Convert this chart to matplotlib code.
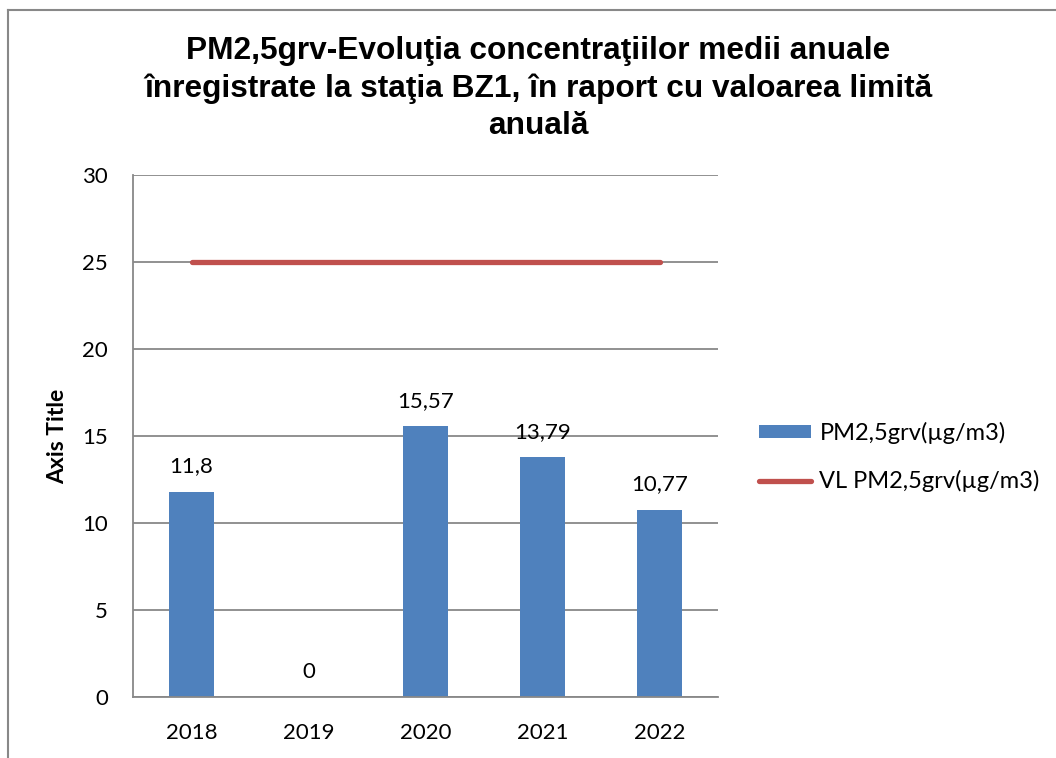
import matplotlib
matplotlib.use("Agg")
import matplotlib.pyplot as plt
from matplotlib.lines import Line2D
from matplotlib.patches import Patch

years = ["2018", "2019", "2020", "2021", "2022"]
pm25 = [11.8, 0, 15.57, 13.79, 10.77]
limit = [25, 25, 25, 25, 25]
bar_labels = ["11,8", "0", "15,57", "13,79", "10,77"]
title = "PM2,5grv-Evoluţia concentraţiilor medii anuale\nînregistrate la staţia BZ1, în raport cu valoarea limită\nanuală"
series_names = ["PM2,5grv(µg/m3)", "VL PM2,5grv(µg/m3)"]

blue = "#4F81BD"
red = "#C0504D"
grid = "#888888"

fig = plt.figure(figsize=(10.56, 7.58), dpi=100)
ax = fig.add_axes([0.126, 0.0805, 0.554, 0.6885])

x = list(range(len(years)))
ax.bar(x, pm25, width=0.39, color=blue, zorder=2)
ax.plot(x, limit, color=red, lw=3.8, solid_capstyle="round", zorder=3)

for xi, v, lab in zip(x, pm25, bar_labels):
    ax.annotate(lab, (xi, v), xytext=(0, 11), textcoords="offset points",
                ha="center", va="bottom", fontsize=16, family="Lato")

ax.set_xlim(-0.5, 4.5)
ax.set_ylim(0, 30)
ax.set_yticks(range(0, 31, 5))
ax.set_xticks(x)
ax.set_xticklabels(years)
ax.tick_params(axis="both", length=0, labelsize=16, colors="black")
ax.tick_params(axis="x", pad=19)
ax.tick_params(axis="y", pad=18)
for lab in ax.get_xticklabels() + ax.get_yticklabels():
    lab.set_family("Lato")
ax.yaxis.grid(True, color=grid, lw=1.3, zorder=0)
ax.set_axisbelow(True)
for s in ["top", "right"]:
    ax.spines[s].set_visible(False)
for s in ["left", "bottom"]:
    ax.spines[s].set_color(grid)
    ax.spines[s].set_linewidth(1.3)

ax.set_ylabel("Axis Title", fontsize=16.5, fontweight="bold", family="Lato", labelpad=10)

fig.text(0.51, 0.953, title, ha="center", va="top", fontsize=22.8,
         fontweight="bold", family="Liberation Sans", linespacing=1.33)

handles = [Patch(facecolor=blue, edgecolor="none"),
           Line2D([0], [0], color=red, lw=3.8, solid_capstyle="round")]
leg = fig.legend(handles, series_names, loc="center left",
                 bbox_to_anchor=(0.719, 0.397), frameon=False,
                 prop={"family": "Lato", "size": 17}, handlelength=2.2,
                 handleheight=0.5, handletextpad=0.35, labelspacing=1.1,
                 borderpad=0, borderaxespad=0)

# figure border (left and top)
fig.add_artist(Line2D([0.0075, 0.0075], [0.0, 0.987], transform=fig.transFigure,
                      color="#888888", lw=1.5))
fig.add_artist(Line2D([0.0075, 1.0], [0.987, 0.987], transform=fig.transFigure,
                      color="#888888", lw=1.5))

fig.savefig("out.png", dpi=100)
